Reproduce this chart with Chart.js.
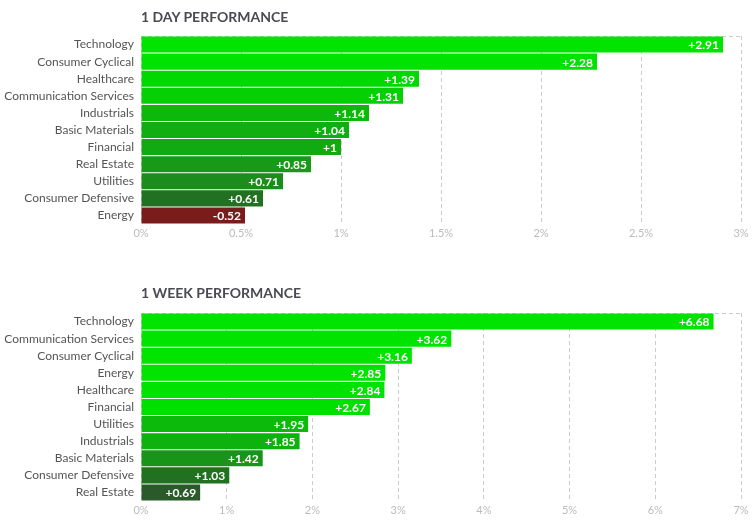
<!DOCTYPE html>
<html>
<head>
<meta charset="utf-8">
<script src="https://cdn.jsdelivr.net/npm/chart.js@4"></script>
<style>
  body { margin: 0; background: #fff; font-family: Lato, sans-serif; }
  #wrap { position: relative; width: 754px; height: 522px; }
  .box { position: absolute; left: 0; width: 754px; height: 261px; }
  .title { position: absolute; left: 141px; margin: 0; font: bold 14px Lato, sans-serif; color: #4a4a52; }
</style>
</head>
<body>
<div id="wrap">
  <div class="box" style="top:0"><canvas id="dayChart"></canvas></div>
  <div class="box" style="top:261px"><canvas id="weekChart"></canvas></div>
  <div class="title" style="top:8px">1 DAY PERFORMANCE</div>
  <div class="title" style="top:284px">1 WEEK PERFORMANCE</div>
</div>
<script>
// Dane - 1 dzien
var dayLabels = ['Technology', 'Consumer Cyclical', 'Healthcare', 'Communication Services', 'Industrials',
    'Basic Materials', 'Financial', 'Real Estate', 'Utilities', 'Consumer Defensive', 'Energy'];
var dayValues = [2.91, 2.28, 1.39, 1.31, 1.14, 1.04, 1, 0.85, 0.71, 0.61, -0.52];
var dayColors = ['#00e400', '#00e200', '#00d800', '#04d004', '#0cb80c', '#10ae10', '#12aa12',
    '#189a18', '#1c8c1c', '#227022', '#7a1c1c'];
var dayTicks = { max: 3, step: 0.5 };

// Dane - 1 tydzien
var weekLabels = ['Technology', 'Communication Services', 'Consumer Cyclical', 'Energy', 'Healthcare',
    'Financial', 'Utilities', 'Industrials', 'Basic Materials', 'Consumer Defensive', 'Real Estate'];
var weekValues = [6.68, 3.62, 3.16, 2.85, 2.84, 2.67, 1.95, 1.85, 1.42, 1.03, 0.69];
var weekColors = ['#00e400', '#00e400', '#00e400', '#00e400', '#00e200', '#00e000', '#0cba0c',
    '#0eb20e', '#189418', '#207220', '#2a5a2a'];
var weekTicks = { max: 7, step: 1 };

function fmt(v) {
    return v > 0 ? '+' + v : String(v);
}

// Etykiety wartosci na koncu slupka
var valueLabels = {
    id: 'valueLabels',
    afterDatasetsDraw: function(chart) {
        var ctx = chart.ctx;
        var raw = chart.config.options.rawValues;
        var meta = chart.getDatasetMeta(0);
        ctx.save();
        ctx.font = 'bold 12px Lato, sans-serif';
        ctx.fillStyle = '#fff';
        ctx.textAlign = 'right';
        ctx.textBaseline = 'middle';
        meta.data.forEach(function(bar, i) {
            ctx.fillText(fmt(raw[i]), bar.x - 4, bar.y + 1);
        });
        ctx.restore();
    }
};

function makeChart(id, labels, values, colors, ticks, padTop, padBottom) {
    var n = labels.length;
    return new Chart(document.getElementById(id), {
        type: 'bar',
        data: {
            labels: labels,
            datasets: [{
                data: values.map(function(v) { return Math.abs(v); }),
                backgroundColor: colors,
                borderWidth: 0,
                barPercentage: 1,
                categoryPercentage: 0.94
            }]
        },
        plugins: [valueLabels],
        options: {
            rawValues: values,
            indexAxis: 'y',
            responsive: true,
            maintainAspectRatio: false,
            animation: false,
            layout: { padding: { top: padTop, bottom: padBottom, left: 0, right: 13 } },
            plugins: { legend: { display: false }, tooltip: { enabled: false } },
            scales: {
                x: {
                    min: 0,
                    max: ticks.max,
                    afterFit: function(scale) { scale.height = 18; },
                    ticks: {
                        stepSize: ticks.step,
                        padding: 3,
                        color: '#bbbbbb',
                        font: { family: 'Lato', size: 11 },
                        callback: function(v) { return v + '%'; }
                    },
                    grid: { color: '#cccccc', drawTicks: false, lineWidth: 1 },
                    border: { display: false, dash: [4, 3] }
                },
                y: {
                    afterFit: function(scale) { scale.width = 141; },
                    ticks: {
                        autoSkip: false,
                        padding: 7,
                        color: '#555555',
                        font: { family: 'Lato', size: 12 }
                    },
                    grid: {
                        drawTicks: false,
                        color: function(c) {
                            return (c.index === 0 || c.index === n) ? '#cccccc' : 'rgba(0,0,0,0)';
                        }
                    },
                    border: { display: false, dash: [4, 3] }
                }
            }
        }
    });
}

var dayChart = makeChart('dayChart', dayLabels, dayValues, dayColors, dayTicks, 36, 19);
var weekChart = makeChart('weekChart', weekLabels, weekValues, weekColors, weekTicks, 52, 3);
</script>
</body>
</html>
